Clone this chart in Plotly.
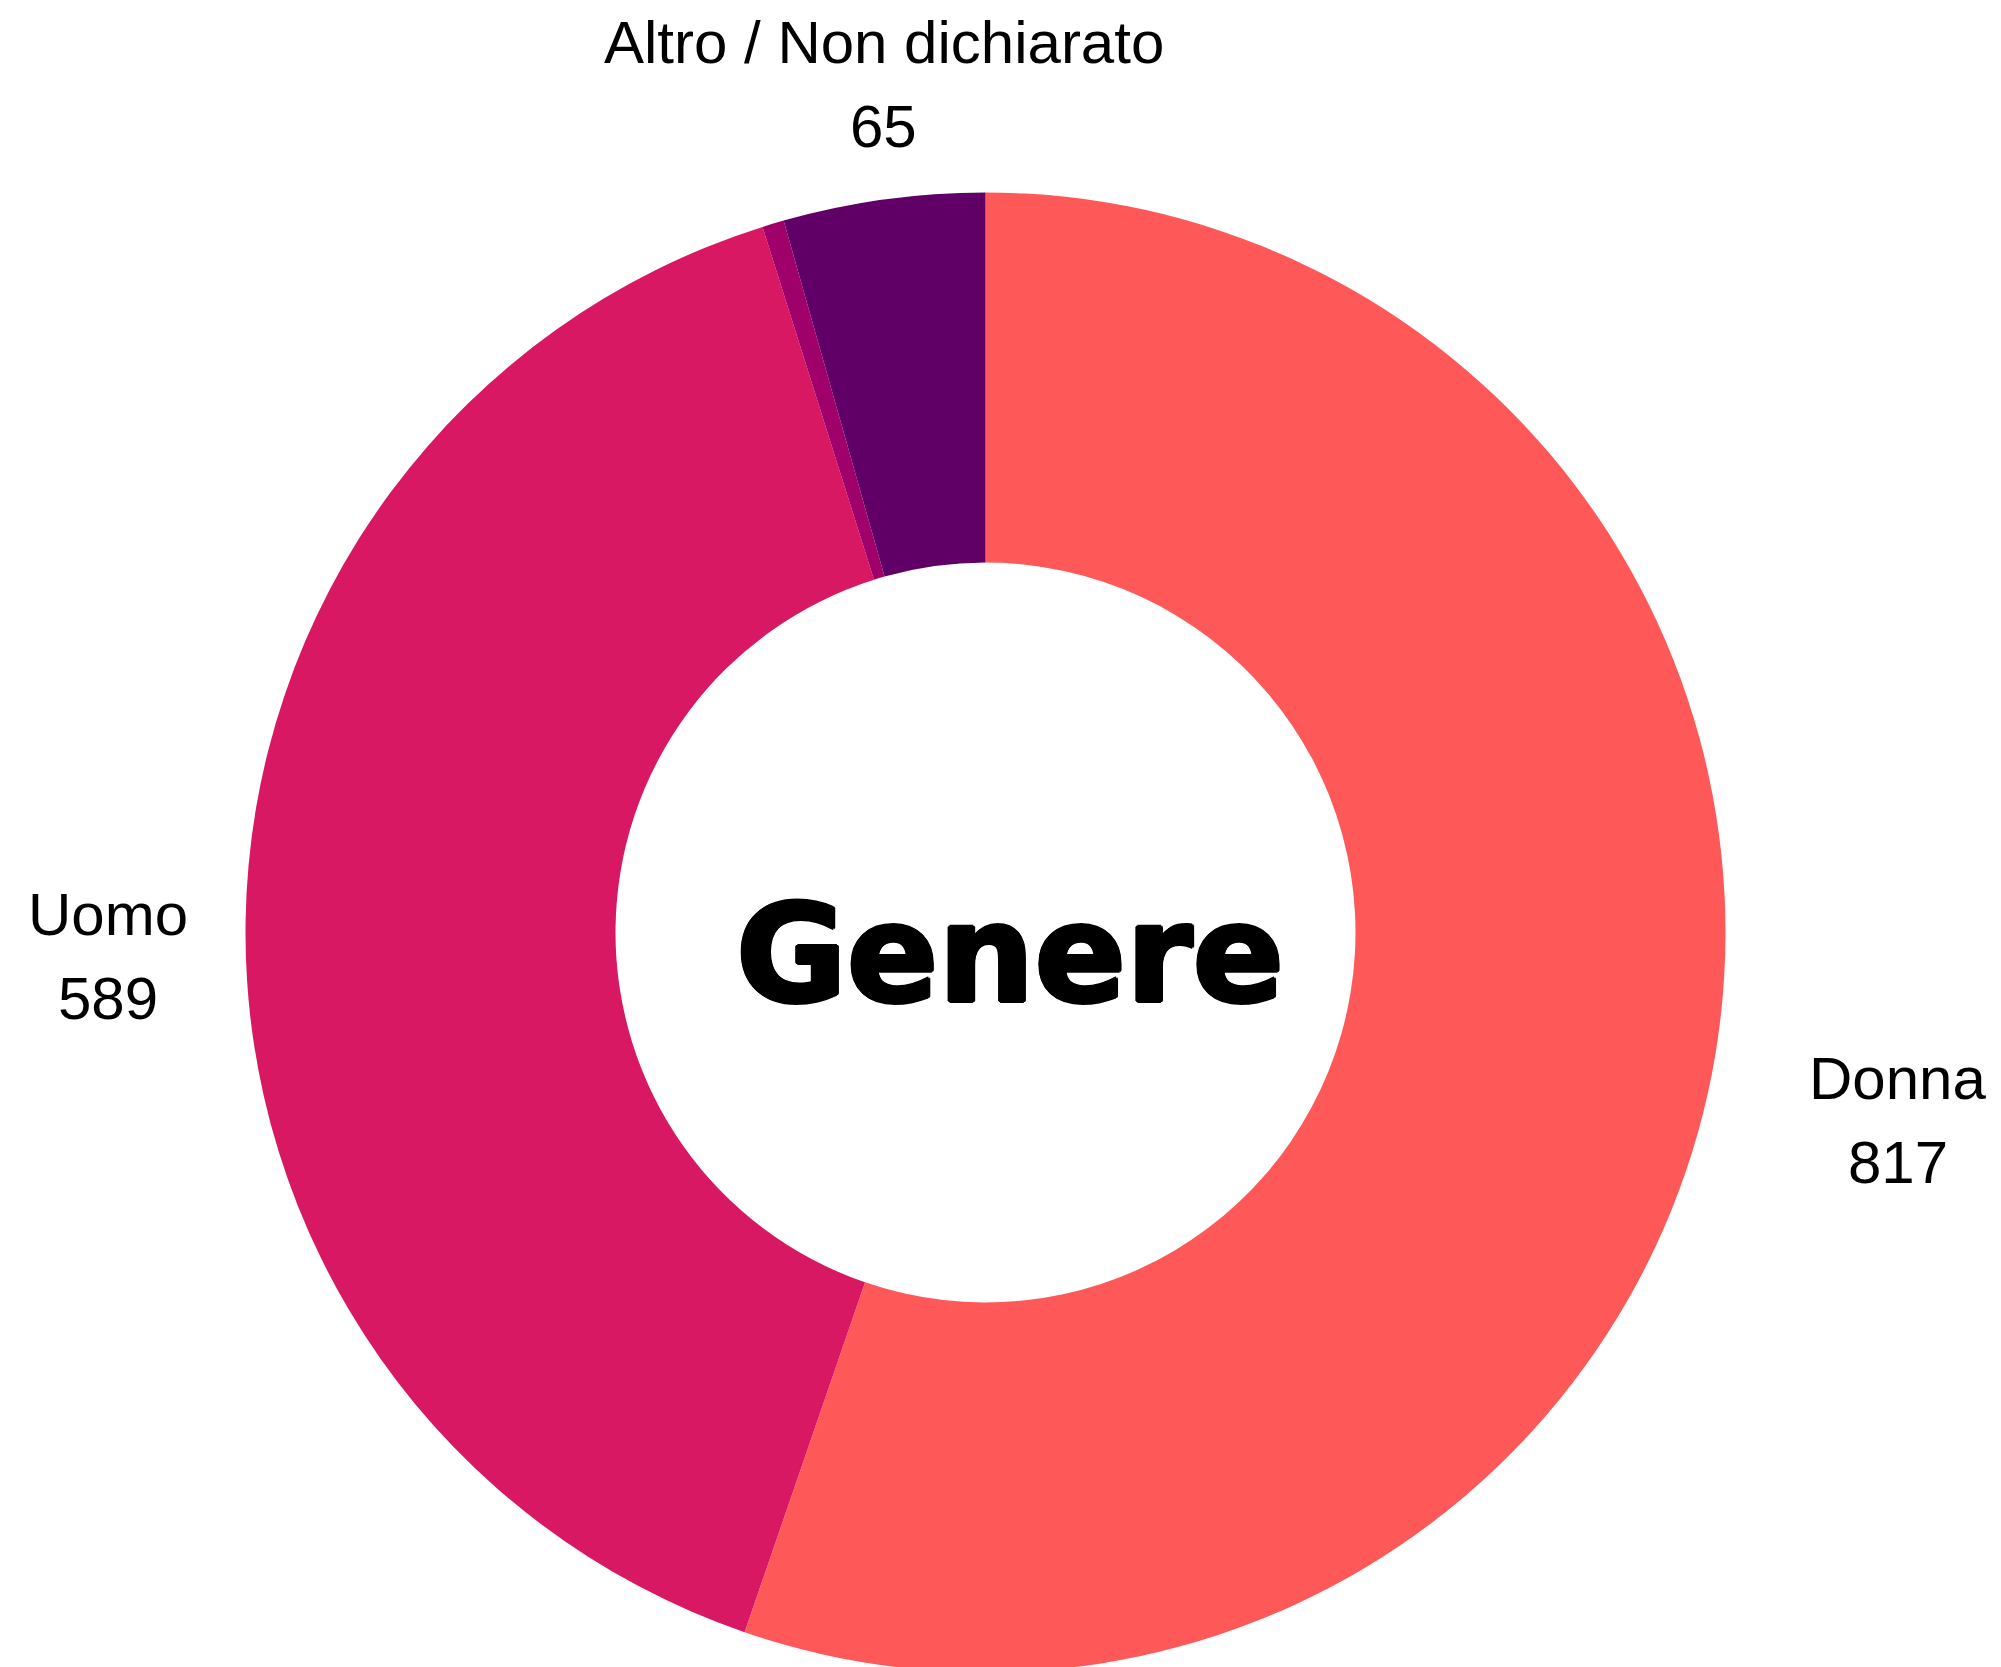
import math
import plotly.graph_objects as go

# Dati del grafico
categorie = ["Donna", "Uomo", "Non binario", "Altro / Non dichiarato"]
valori = [817, 589, 7, 65]
colori = ["#FF5858", "#D81862", "#A0006A", "#600066"]
mostra_etichetta = [True, True, False, True]

W, H = 2001, 1667
OFF = 8                        # margine di default del <body> nella pagina
CX, CY = 985.5 - OFF, 932.5 - OFF   # centro della ciambella (px nella figura)
R = 740                        # raggio esterno in px
# distanza delle etichette dal centro (in multipli del raggio) e piccolo spostamento orizzontale
dist_etichette = [1.25, 1.186, None, 1.205]
spost_x = [0, 0, 0, 21]
INTERLINEA = 84

fig = go.Figure()
fig.add_trace(go.Pie(
    labels=categorie,
    values=valori,
    hole=0.5,
    sort=False,
    direction="clockwise",
    rotation=0,
    marker=dict(colors=colori, line=dict(width=0)),
    textinfo="none",
    showlegend=False,
    domain=dict(x=[(CX - R) / W, (CX + R) / W],
                y=[max(0, (H - CY - R) / H), (H - CY + R) / H]),
))

font_etichette = dict(family="Liberation Sans, Arial, sans-serif", size=60, color="#000000")

# Etichette esterne calcolate dagli angoli delle fette
totale = sum(valori)
cumulato = 0
for nome, v, vis, k, sx in zip(categorie, valori, mostra_etichetta, dist_etichette, spost_x):
    meta = (cumulato + v / 2) / totale * 2 * math.pi
    cumulato += v
    if not vis:
        continue
    px = CX + k * R * math.sin(meta) + sx
    py = CY - k * R * math.cos(meta) + 35
    for riga, dy in ((nome, -INTERLINEA / 2), (str(v), INTERLINEA / 2)):
        fig.add_annotation(
            x=px / W, y=1 - (py + dy) / H, xref="paper", yref="paper",
            text=riga, showarrow=False,
            xanchor="center", yanchor="middle",
            font=font_etichette,
        )

# Titolo al centro (contorno per rendere il testo più pesante)
ombra = ", ".join(
    f"{2 * math.cos(a):.2f}px {2 * math.sin(a):.2f}px 0 #000"
    for a in [i * math.pi / 4 for i in range(8)]
)
fig.add_annotation(
    x=CX / W, y=1 - CY / H, xref="paper", yref="paper",
    text="<b>Genere</b>", showarrow=False,
    xanchor="center", yanchor="middle", xshift=24, yshift=-22,
    font=dict(family="DejaVu Sans, Arial Black, sans-serif", size=135, color="#000000",
              shadow=ombra),
)

fig.update_layout(
    width=W, height=H,
    margin=dict(l=0, r=0, t=0, b=0),
    paper_bgcolor="white",
    plot_bgcolor="white",
)

fig.write_html("out.html")
